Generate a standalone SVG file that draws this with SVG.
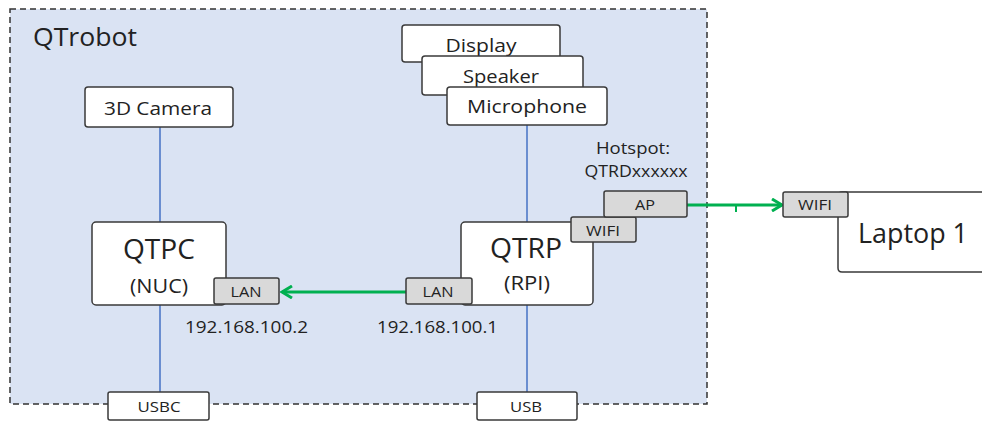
<svg xmlns="http://www.w3.org/2000/svg" width="982" height="423" viewBox="0 0 982 423">
<style>
text{font-family:"Open Sans","Noto Sans","DejaVu Sans",sans-serif;fill:#222}
.box{fill:#fff;stroke:#3a3a3a;stroke-width:1.5}
.port{fill:#d9d9d9;stroke:#3a3a3a;stroke-width:1.5}
.blue{stroke:#4472c4;stroke-width:1.5;fill:none}
.green{stroke:#00b050;stroke-width:3;fill:none}
.c{text-anchor:middle}
</style>
<defs>
<marker id="arr" viewBox="0 0 14 14" refX="12" refY="7" markerWidth="14" markerHeight="14" markerUnits="userSpaceOnUse" orient="auto">
<path d="M2,1 L12,7 L2,13" fill="none" stroke="#00b050" stroke-width="3"/>
</marker>
</defs>
<rect width="982" height="423" fill="#fff"/>
<g id="qtrobot">
<rect x="10" y="9" width="697" height="395" fill="#dae3f3" stroke="#333" stroke-width="1.5" stroke-dasharray="6,4"/>
<text x="33" y="46" font-size="25" textLength="104" lengthAdjust="spacingAndGlyphs">QTrobot</text>
</g>
<g id="connectors">
<line class="blue" x1="160" y1="127" x2="160" y2="222"/>
<line class="blue" x1="160" y1="305" x2="160" y2="392"/>
<line class="blue" x1="527" y1="125" x2="527" y2="222"/>
<line class="blue" x1="527" y1="305" x2="527" y2="392"/>
<line class="green" x1="406" y1="292" x2="282" y2="292" marker-end="url(#arr)"/>
<line class="green" x1="687" y1="205" x2="782" y2="205" marker-end="url(#arr)"/>
<line x1="736" y1="205" x2="736" y2="212" stroke="#00b050" stroke-width="2"/>
</g>
<g id="camera">
<rect class="box" x="85" y="87" width="148" height="40" rx="3"/>
<text class="c" x="158" y="115" font-size="19" textLength="108" lengthAdjust="spacingAndGlyphs">3D Camera</text>
</g>
<g id="display">
<rect class="box" x="402" y="25" width="158" height="37" rx="3"/>
<text class="c" x="481" y="52" font-size="19" textLength="71" lengthAdjust="spacingAndGlyphs">Display</text>
</g>
<g id="speaker">
<rect class="box" x="422" y="56" width="161" height="39" rx="3"/>
<text class="c" x="501" y="83" font-size="19" textLength="76" lengthAdjust="spacingAndGlyphs">Speaker</text>
</g>
<g id="microphone">
<rect class="box" x="447" y="87" width="160" height="38" rx="3"/>
<text class="c" x="527" y="113" font-size="19" textLength="120" lengthAdjust="spacingAndGlyphs">Microphone</text>
</g>
<g id="qtpc">
<rect class="box" x="92" y="222" width="134" height="83" rx="4"/>
<text class="c" x="159" y="259" font-size="28" textLength="72" lengthAdjust="spacingAndGlyphs">QTPC</text>
<text class="c" x="159" y="293" font-size="20" textLength="58" lengthAdjust="spacingAndGlyphs">(NUC)</text>
<rect class="port" x="214" y="278" width="65" height="26" rx="2"/>
<text class="c" x="246" y="297" font-size="15" textLength="31" lengthAdjust="spacingAndGlyphs">LAN</text>
<text x="185" y="333" font-size="17" textLength="123" lengthAdjust="spacingAndGlyphs">192.168.100.2</text>
</g>
<g id="qtrp">
<rect class="box" x="461" y="222" width="132" height="83" rx="4"/>
<text class="c" x="526" y="258" font-size="28" textLength="72" lengthAdjust="spacingAndGlyphs">QTRP</text>
<text class="c" x="527" y="290" font-size="20" textLength="46" lengthAdjust="spacingAndGlyphs">(RPI)</text>
<rect class="port" x="406" y="278" width="66" height="26" rx="2"/>
<text class="c" x="438" y="297" font-size="15" textLength="31" lengthAdjust="spacingAndGlyphs">LAN</text>
<rect class="port" x="571" y="217" width="65" height="25" rx="2"/>
<text class="c" x="603" y="236" font-size="15" textLength="34" lengthAdjust="spacingAndGlyphs">WIFI</text>
<rect class="port" x="604" y="191" width="83" height="26" rx="2"/>
<text class="c" x="645" y="210" font-size="15" textLength="20" lengthAdjust="spacingAndGlyphs">AP</text>
<text x="377" y="333" font-size="17" textLength="121" lengthAdjust="spacingAndGlyphs">192.168.100.1</text>
<text class="c" x="633" y="154" font-size="16" textLength="74" lengthAdjust="spacingAndGlyphs">Hotspot:</text>
<text class="c" x="636" y="177" font-size="16" textLength="103" lengthAdjust="spacingAndGlyphs">QTRDxxxxxx</text>
</g>
<g id="laptop">
<path class="box" d="M985,192 L842,192 Q838,192 838,196 L838,268 Q838,272 842,272 L985,272"/>
<text x="858" y="243" font-size="28" textLength="110" lengthAdjust="spacingAndGlyphs">Laptop 1</text>
<rect class="port" x="783" y="192" width="65" height="25" rx="2"/>
<text class="c" x="815" y="210" font-size="15" textLength="34" lengthAdjust="spacingAndGlyphs">WIFI</text>
</g>
<g id="usbc">
<rect class="box" x="108" y="392" width="101" height="28" rx="2"/>
<text class="c" x="159" y="412" font-size="15" textLength="43" lengthAdjust="spacingAndGlyphs">USBC</text>
</g>
<g id="usb">
<rect class="box" x="477" y="392" width="100" height="28" rx="2"/>
<text class="c" x="526" y="412" font-size="15" textLength="32" lengthAdjust="spacingAndGlyphs">USB</text>
</g>
</svg>
